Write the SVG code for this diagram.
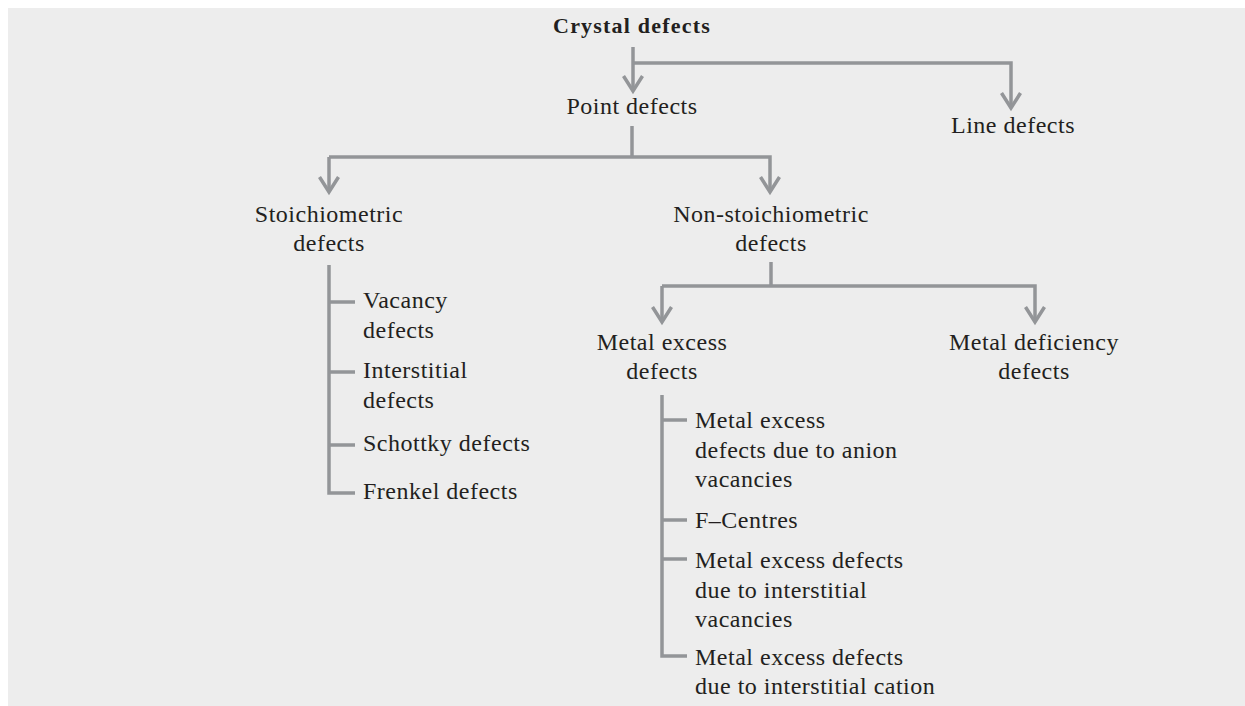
<svg xmlns="http://www.w3.org/2000/svg" width="1245" height="706" viewBox="0 0 1245 706">
<defs>
<style>
.t{font-family:"Liberation Serif","Times New Roman",serif;font-size:24px;fill:#231f20;letter-spacing:0.5px}
.c{text-anchor:middle}
.b{font-weight:bold;font-size:22px;letter-spacing:1.2px}
.ln{fill:none;stroke:#939598;stroke-width:3.5;stroke-linejoin:miter}
.ar{marker-end:url(#arr)}
</style>
<marker id="arr" markerUnits="userSpaceOnUse" markerWidth="30" markerHeight="30" refX="0" refY="0" orient="auto" overflow="visible">
<path d="M-15,-9.5 L0,0 L-15,9.5" fill="none" stroke="#939598" stroke-width="3.5" stroke-linejoin="miter"/>
</marker>
</defs>
<rect x="0" y="0" width="1245" height="706" fill="#ffffff"/>
<rect x="8" y="8" width="1237" height="698" fill="#ededed"/>

<g id="connectors">
<path class="ln ar" d="M633,47 V91"/>
<path class="ln ar" d="M633,63 H1011 V108"/>
<path class="ln" d="M632,126 V157"/>
<path class="ln ar" d="M329,157 V192"/>
<path class="ln ar" d="M632,157 H770 V192"/>
<path class="ln" d="M632,157 H329"/>
<path class="ln" d="M329,265 V493 H355"/>
<path class="ln" d="M329,302 H355 M329,372 H355 M329,445 H355"/>
<path class="ln" d="M771,262 V286"/>
<path class="ln ar" d="M662,286 V322"/>
<path class="ln ar" d="M662,286 H1035 V322"/>
<path class="ln" d="M662,395 V656 H687"/>
<path class="ln" d="M662,420 H687 M662,520 H687 M662,559 H687"/>
</g>

<g id="crystal"><text class="t b c" x="632" y="33">Crystal defects</text></g>
<g id="point"><text class="t c" x="632" y="114">Point defects</text></g>
<g id="line"><text class="t c" x="1013" y="133">Line defects</text></g>
<g id="stoich"><text class="t c" x="329" y="222">Stoichiometric</text><text class="t c" x="329" y="251">defects</text></g>
<g id="nonstoich"><text class="t c" x="771" y="222">Non-stoichiometric</text><text class="t c" x="771" y="251">defects</text></g>
<g id="vacancy"><text class="t" x="363" y="308">Vacancy</text><text class="t" x="363" y="338">defects</text></g>
<g id="interstitial"><text class="t" x="363" y="378">Interstitial</text><text class="t" x="363" y="408">defects</text></g>
<g id="schottky"><text class="t" x="363" y="451">Schottky defects</text></g>
<g id="frenkel"><text class="t" x="363" y="499">Frenkel defects</text></g>
<g id="metalexcess"><text class="t c" x="662" y="350">Metal excess</text><text class="t c" x="662" y="379">defects</text></g>
<g id="metaldef"><text class="t c" x="1034" y="350">Metal deficiency</text><text class="t c" x="1034" y="379">defects</text></g>
<g id="anion"><text class="t" x="695" y="428">Metal excess</text><text class="t" x="695" y="458">defects due to anion</text><text class="t" x="695" y="487">vacancies</text></g>
<g id="fcentres"><text class="t" x="695" y="528">F–Centres</text></g>
<g id="intvac"><text class="t" x="695" y="568">Metal excess defects</text><text class="t" x="695" y="598">due to interstitial</text><text class="t" x="695" y="627">vacancies</text></g>
<g id="intcation"><text class="t" x="695" y="665">Metal excess defects</text><text class="t" x="695" y="694">due to interstitial cation</text></g>
</svg>
